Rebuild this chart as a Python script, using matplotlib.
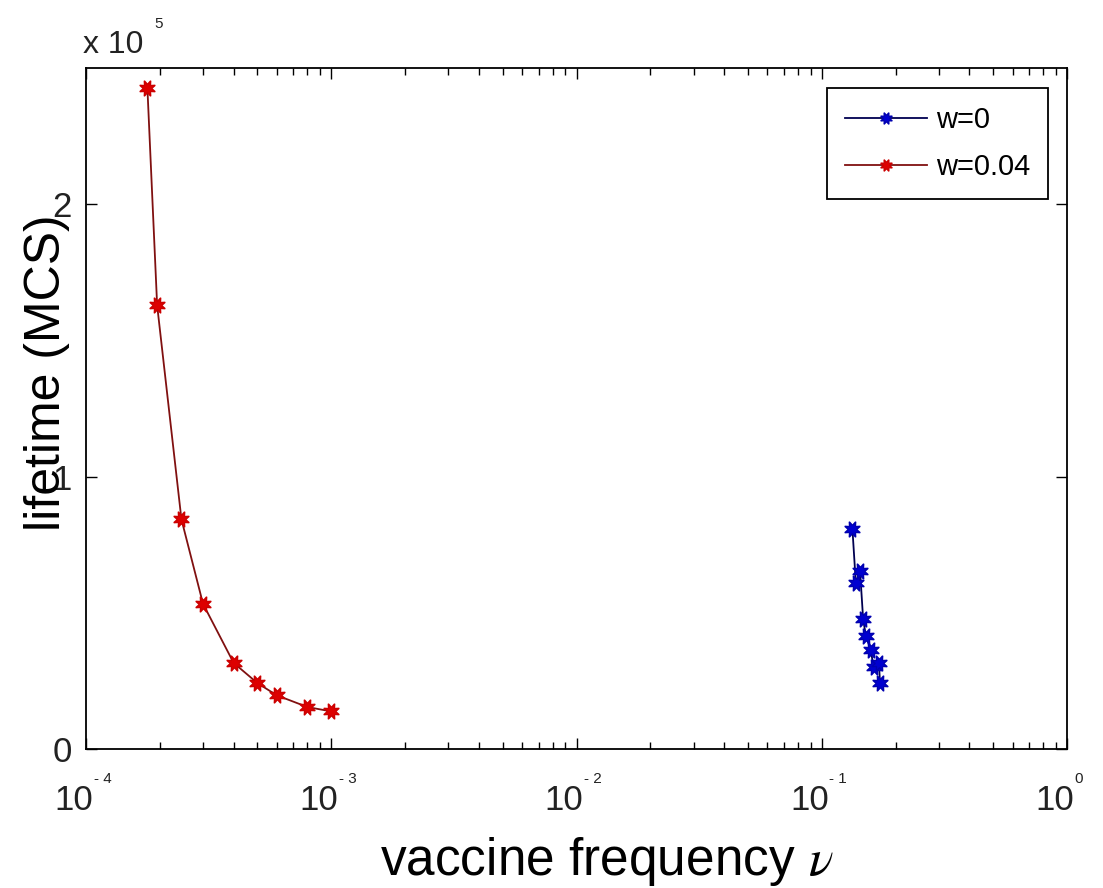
import matplotlib
matplotlib.use("Agg")
import matplotlib.pyplot as plt
from matplotlib.ticker import LogLocator, NullFormatter, FixedLocator
import matplotlib.transforms as mtransforms

# ---- data ----
nu_w0 = [0.1334, 0.1377, 0.1433, 0.1475, 0.1514, 0.1585, 0.1626, 0.1710, 0.1729]
life_w0 = [0.806e5, 0.610e5, 0.653e5, 0.476e5, 0.415e5, 0.363e5, 0.301e5, 0.316e5, 0.241e5]

nu_w004 = [1.78e-4, 1.95e-4, 2.45e-4, 3.0e-4, 4.0e-4, 5.0e-4, 6.0e-4, 8.0e-4, 1.0e-3]
life_w004 = [2.425e5, 1.629e5, 0.843e5, 0.533e5, 0.316e5, 0.242e5, 0.197e5, 0.154e5, 0.138e5]

x_major = [1e-4, 1e-3, 1e-2, 1e-1, 1e0]
x_exponents = ["- 4", "- 3", "- 2", "- 1", "0"]
y_ticks = [0, 1e5, 2e5]
y_ticklabels = ["0", "1", "2"]
legend_labels = ["w=0", "w=0.04"]

# ---- fonts ----
plt.rcParams["font.family"] = ["Liberation Sans", "DejaVu Sans"]
plt.rcParams["mathtext.fontset"] = "stix"
tick_col = "#222222"

fig = plt.figure(figsize=(11.03, 8.88), dpi=100)
ax = fig.add_axes([86/1103, 1 - 749/888, (1067-86)/1103, (749-68)/888])

star = (8, 1, 22.5)
ax.plot(nu_w0, life_w0, color="#000050", lw=1.3, marker=star, ms=12,
        mfc="#0000d0", mec="#0000b0", mew=1.0, label=legend_labels[0])
ax.plot(nu_w004, life_w004, color="#801010", lw=1.3, marker=star, ms=12,
        mfc="#dd0000", mec="#cc0000", mew=1.0, label=legend_labels[1])

ax.set_xscale("log")
ax.set_xlim(1e-4, 1e0)
ax.set_ylim(0, 2.5e5)

ax.xaxis.set_major_locator(FixedLocator(x_major))
ax.xaxis.set_minor_locator(LogLocator(base=10, subs=range(2, 10), numticks=20))
ax.xaxis.set_minor_formatter(NullFormatter())
ax.set_xticks(x_major)
ax.set_xticklabels(["10"] * len(x_major), fontsize=25, color=tick_col)
ax.set_yticks(y_ticks)
ax.set_yticklabels(y_ticklabels, fontsize=25, color=tick_col)

ax.tick_params(which="both", direction="in", top=True, right=True, width=1.0, color="black")
ax.tick_params(which="major", length=8)
ax.tick_params(axis="y", which="major", pad=10)
ax.tick_params(axis="x", which="major", pad=25)
ax.tick_params(which="minor", length=5)
for s in ax.spines.values():
    s.set_linewidth(1.3)

shift = mtransforms.ScaledTranslation(7/100, 0, fig.dpi_scale_trans)
for lab in ax.get_xticklabels():
    lab.set_ha("right")
    lab.set_transform(lab.get_transform() + shift)

# superscript exponents on x tick labels
trans = mtransforms.blended_transform_factory(ax.transData, ax.transAxes)
for xv, e in zip(x_major, x_exponents):
    ax.annotate(e, xy=(xv, 0), xycoords=trans, xytext=(5.5, -24.5), textcoords="offset points",
                fontsize=11, color=tick_col, ha="left", va="baseline")

# y offset text "x 10^5"
ax.text(-0.003, 1.022, "x 10", transform=ax.transAxes, fontsize=23,
        color=tick_col, ha="left", va="baseline")
ax.text(0.0693, 1.0587, "5", transform=ax.transAxes, fontsize=11,
        color=tick_col, ha="left", va="baseline")

ax.set_xlabel("vaccine frequency $\\nu$", fontsize=37)
ax.xaxis.set_label_coords(0.531, -0.165)
ax.set_ylabel("lifetime (MCS)", fontsize=36)
ax.yaxis.set_label_coords(-0.040, 0.553)
ax.xaxis.label.set_va("center")
ax.yaxis.label.set_va("center")

leg = ax.legend(loc="upper right", bbox_to_anchor=(0.9806, 0.9706), borderaxespad=0,
                handlelength=2.8, handletextpad=0.3, borderpad=0.62,
                labelspacing=0.66, fancybox=False, framealpha=1, markerscale=0.75,
                prop={"size": 21})
leg.get_frame().set_edgecolor("black")
leg.get_frame().set_linewidth(1.3)

fig.savefig("out.png", dpi=100, facecolor="white")
